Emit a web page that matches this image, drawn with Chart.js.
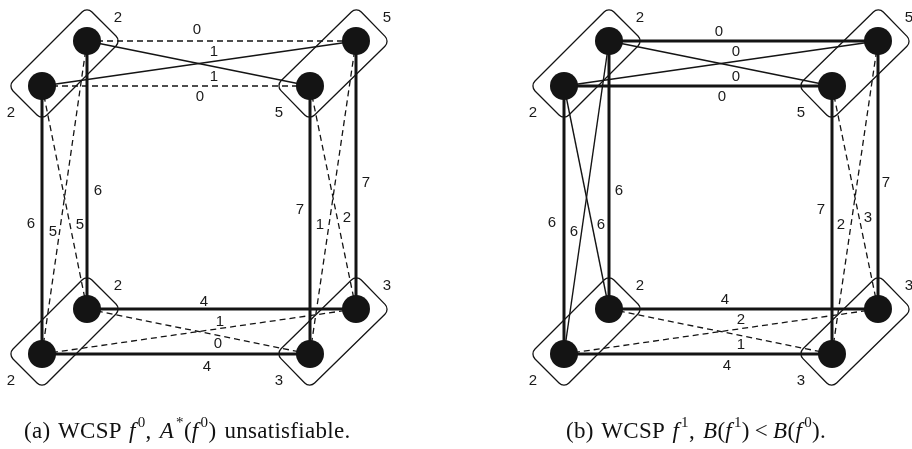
<!DOCTYPE html>
<html>
<head>
<meta charset="utf-8">
<script src="https://cdn.jsdelivr.net/npm/chart.js@4.4.1/dist/chart.umd.min.js"></script>
<style>
  html, body { margin: 0; padding: 0; background: #fff; }
  #wrap { position: relative; width: 912px; height: 449px; overflow: hidden; }
  #graph { position: absolute; left: 0; top: 0; }
  .caption {
    position: absolute; top: 418px; white-space: nowrap;
    font-family: "Liberation Serif", "DejaVu Serif", serif; font-size: 23px; color: #111;
    letter-spacing: 0.3px; word-spacing: 2px;
  }
  .caption sup { font-size: 15px; line-height: 0; position: relative; top: -2px; margin-left: 2px; }
  .caption .op { margin: 0 5px; }
</style>
</head>
<body>
<div id="wrap">
  <canvas id="graph" width="912" height="449"></canvas>
  <div class="caption" id="cap-a" style="left:24px">(a) WCSP <i>f</i><sup>0</sup>, <i>A</i><sup>*</sup>(<i>f</i><sup>0</sup>) unsatisfiable.</div>
  <div class="caption" id="cap-b" style="left:566px">(b) WCSP <i>f</i><sup>1</sup>, <i>B</i>(<i>f</i><sup>1</sup>)<span class="op">&lt;</span><i>B</i>(<i>f</i><sup>0</sup>).</div>
</div>
<script>
// WCSP graphs f0 / f1 - two panels drawn on one scatter chart
const nodeIds = ['a', 'b', 'c', 'd', 'e', 'f', 'g', 'h'];
const nodeX = [87, 42, 310, 356, 87, 42, 310, 356];
const nodeY = [41, 86, 86, 41, 309, 354, 354, 309];
const panelShift = [0, 522];

// unary costs, same order as nodeIds
const unaryA = [2, 2, 5, 5, 2, 2, 3, 3];
const unaryB = [2, 2, 5, 5, 2, 2, 3, 3];

// variable boxes: [upper value, lower value]
const boxPairs = [['a', 'b'], ['d', 'c'], ['e', 'f'], ['h', 'g']];

// binary costs: from, to, cost, line kind, label x, label y
const edgesA = [
  ['a', 'd', 0, 'dash', 197, 30],
  ['b', 'd', 1, 'thin', 214, 52],
  ['a', 'c', 1, 'thin', 214, 77],
  ['b', 'c', 0, 'dash', 200, 97],
  ['a', 'e', 6, 'thick', 98, 191],
  ['b', 'f', 6, 'thick', 31, 224],
  ['a', 'f', 5, 'dash', 53, 232],
  ['b', 'e', 5, 'dash', 80, 225],
  ['c', 'g', 7, 'thick', 300, 210],
  ['d', 'h', 7, 'thick', 366, 183],
  ['d', 'g', 1, 'dash', 320, 225],
  ['c', 'h', 2, 'dash', 347, 218],
  ['e', 'h', 4, 'thick', 204, 302],
  ['f', 'g', 4, 'thick', 207, 367],
  ['f', 'h', 1, 'dash', 220, 322],
  ['e', 'g', 0, 'dash', 218, 344]
];
const edgesB = [
  ['a', 'd', 0, 'thick', 197, 32],
  ['b', 'd', 0, 'thin', 214, 52],
  ['a', 'c', 0, 'thin', 214, 77],
  ['b', 'c', 0, 'thick', 200, 97],
  ['a', 'e', 6, 'thick', 97, 191],
  ['b', 'f', 6, 'thick', 30, 223],
  ['a', 'f', 6, 'thin', 52, 232],
  ['b', 'e', 6, 'thin', 79, 225],
  ['c', 'g', 7, 'thick', 299, 210],
  ['d', 'h', 7, 'thick', 364, 183],
  ['d', 'g', 2, 'dash', 319, 225],
  ['c', 'h', 3, 'dash', 346, 218],
  ['e', 'h', 4, 'thick', 203, 300],
  ['f', 'g', 4, 'thick', 205, 366],
  ['f', 'h', 2, 'dash', 219, 320],
  ['e', 'g', 1, 'dash', 219, 345]
];

const panels = [
  { edges: edgesA, unary: unaryA, shift: panelShift[0] },
  { edges: edgesB, unary: unaryB, shift: panelShift[1] }
];

const INK = '#141414';
const lineKinds = {
  thick: { width: 3, dash: [] },
  thin: { width: 1.4, dash: [] },
  dash: { width: 1.3, dash: [6, 4] }
};

function nodePos(id, shift) {
  const i = nodeIds.indexOf(id);
  return { x: nodeX[i] + shift, y: nodeY[i] };
}

function buildDatasets() {
  const sets = [];
  const nodes = [];
  panels.forEach(p => {
    nodeIds.forEach(id => nodes.push(nodePos(id, p.shift)));
  });
  sets.push({
    label: 'values', data: nodes, order: 0,
    pointRadius: 14, pointHoverRadius: 14, pointBackgroundColor: INK, pointBorderWidth: 0, showLine: false
  });
  panels.forEach(p => {
    p.edges.forEach(e => {
      const k = lineKinds[e[3]];
      sets.push({
        label: e[0] + '-' + e[1], type: 'line', order: 2,
        data: [nodePos(e[0], p.shift), nodePos(e[1], p.shift)],
        borderColor: INK, borderWidth: k.width, borderDash: k.dash,
        pointRadius: 0, fill: false, tension: 0
      });
    });
  });
  return sets;
}

function roundedBox(ctx, cx, cy, halfLen, halfW, angle, r) {
  ctx.save();
  ctx.translate(cx, cy);
  ctx.rotate(angle);
  ctx.beginPath();
  ctx.moveTo(-halfLen + r, -halfW);
  ctx.lineTo(halfLen - r, -halfW);
  ctx.arcTo(halfLen, -halfW, halfLen, -halfW + r, r);
  ctx.lineTo(halfLen, halfW - r);
  ctx.arcTo(halfLen, halfW, halfLen - r, halfW, r);
  ctx.lineTo(-halfLen + r, halfW);
  ctx.arcTo(-halfLen, halfW, -halfLen, halfW - r, r);
  ctx.lineTo(-halfLen, -halfW + r);
  ctx.arcTo(-halfLen, -halfW, -halfLen + r, -halfW, r);
  ctx.closePath();
  ctx.stroke();
  ctx.restore();
}

const boxesPlugin = {
  id: 'boxes',
  beforeDatasetsDraw(chart) {
    const { ctx, scales: { x, y } } = chart;
    ctx.save();
    ctx.strokeStyle = INK;
    ctx.lineWidth = 1.3;
    panels.forEach(p => {
      boxPairs.forEach(pair => {
        const u = nodePos(pair[0], p.shift), l = nodePos(pair[1], p.shift);
        const ux = x.getPixelForValue(u.x), uy = y.getPixelForValue(u.y);
        const lx = x.getPixelForValue(l.x), ly = y.getPixelForValue(l.y);
        const len = Math.hypot(ux - lx, uy - ly);
        roundedBox(ctx, (ux + lx) / 2, (uy + ly) / 2, len / 2 + 24, 24, Math.atan2(uy - ly, ux - lx), 7);
      });
    });
    ctx.restore();
  }
};

const labelsPlugin = {
  id: 'costLabels',
  afterDatasetsDraw(chart) {
    const { ctx, scales: { x, y } } = chart;
    ctx.save();
    ctx.fillStyle = '#1a1a1a';
    ctx.font = '15px "Liberation Sans", Arial, sans-serif';
    ctx.textAlign = 'center';
    ctx.textBaseline = 'middle';
    panels.forEach(p => {
      p.edges.forEach(e => {
        ctx.fillText(String(e[2]), x.getPixelForValue(e[4] + p.shift), y.getPixelForValue(e[5]));
      });
      boxPairs.forEach(pair => {
        // upper value label sits top-right of its box, lower one bottom-left
        const u = nodePos(pair[0], p.shift), l = nodePos(pair[1], p.shift);
        ctx.fillText(String(p.unary[nodeIds.indexOf(pair[0])]), x.getPixelForValue(u.x + 31), y.getPixelForValue(u.y - 23));
        ctx.fillText(String(p.unary[nodeIds.indexOf(pair[1])]), x.getPixelForValue(l.x - 31), y.getPixelForValue(l.y + 27));
      });
    });
    ctx.restore();
  }
};

new Chart(document.getElementById('graph'), {
  type: 'scatter',
  data: { datasets: buildDatasets() },
  options: {
    responsive: false,
    animation: false,
    layout: { padding: 0, autoPadding: false },
    plugins: { legend: { display: false }, tooltip: { enabled: false } },
    scales: {
      x: { type: 'linear', min: 0, max: 912, display: false },
      y: { type: 'linear', min: 0, max: 449, reverse: true, display: false }
    },
    elements: { line: { borderCapStyle: 'butt' } }
  },
  plugins: [boxesPlugin, labelsPlugin]
});
</script>
</body>
</html>
